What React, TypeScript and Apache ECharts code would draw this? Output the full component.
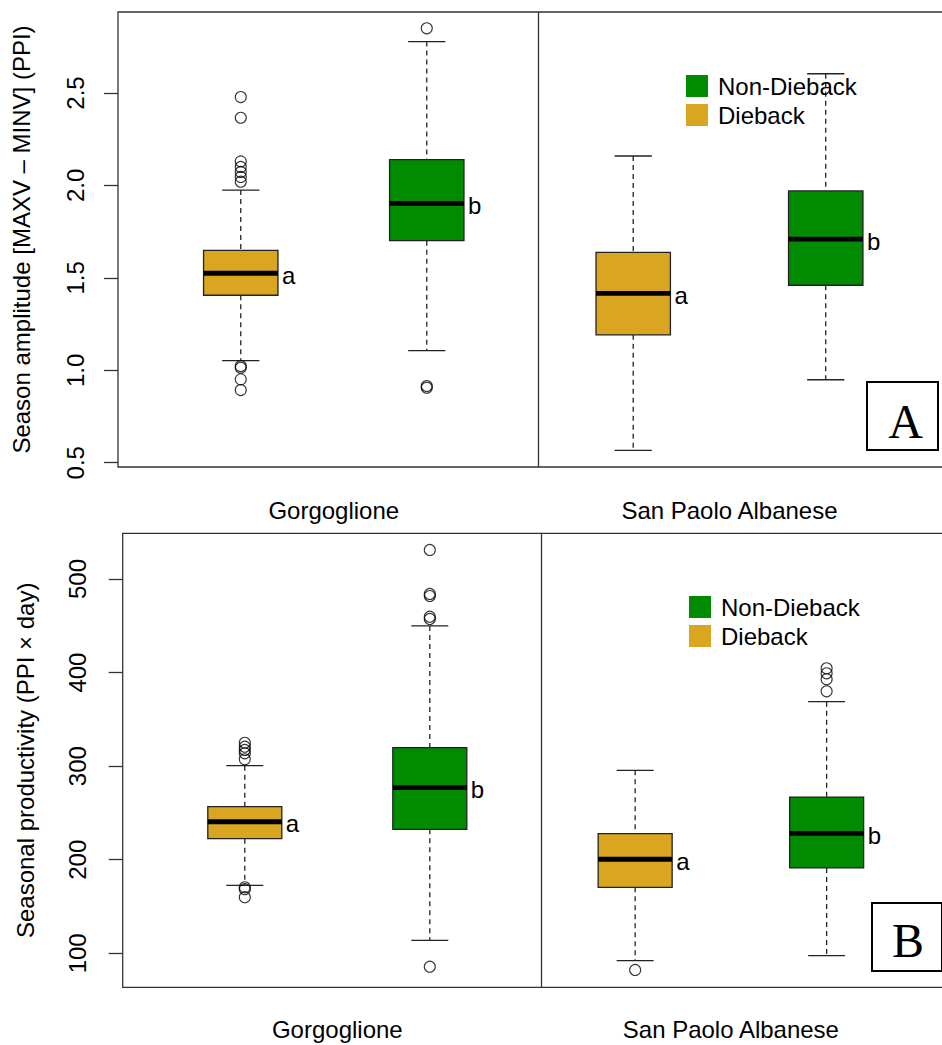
import React, { useEffect, useRef } from "react";
import * as echarts from "echarts";

// ---------- data ----------
const SITES = ["Gorgoglione", "San Paolo Albanese"];
const GROUPS = ["Non-Dieback", "Dieback"];
// box positions on the x value axis: [Gorgoglione, San Paolo Albanese]
const POS_DIEBACK = [1, 3.11];
const POS_NON = [2, 4.145];
const SITE_MID = [1.5, 3.6275];
const DIVIDER = 2.595;

// stats: [lower whisker, Q1, median, Q3, upper whisker]
const A_DIEBACK = [
  [1.052, 1.406, 1.525, 1.649, 1.975],
  [0.567, 1.192, 1.416, 1.638, 2.159],
];
const A_NON = [
  [1.106, 1.701, 1.903, 2.139, 2.778],
  [0.949, 1.46, 1.71, 1.97, 2.604],
];
const A_OUT_DIEBACK = [
  [2.478, 2.366, 2.13, 2.1, 2.073, 2.046, 2.02, 1.023, 1.014, 0.951, 0.893],
  [],
];
const A_OUT_NON = [[2.85, 0.915, 0.906], []];

const B_DIEBACK = [
  [172.7, 222.5, 240.6, 256.7, 300.5],
  [92.1, 170.5, 200.5, 227.8, 295.5],
];
const B_NON = [
  [113.9, 232.5, 277, 319.8, 449.8],
  [97.5, 191.2, 228.2, 267, 368.9],
];
const B_OUT_DIEBACK = [
  [325, 320.8, 317.3, 313.7, 307.3, 170.5, 168.5, 160],
  [82.2],
];
const B_OUT_NON = [
  [531, 484, 481.8, 459.7, 457.3, 85.7],
  [404.6, 399.2, 392.8, 380],
];

const LETTERS_DIEBACK = ["a", "a"];
const LETTERS_NON = ["b", "b"];

const A_TICKS = [0.5, 1.0, 1.5, 2.0, 2.5];
const B_TICKS = [100, 200, 300, 400, 500];

const A_TITLE = "Season amplitude [MAXV \u2013 MINV] (PPI)";
const B_TITLE = "Seasonal productivity (PPI \u00d7 day)";

// ---------- style ----------
const GOLD = "#DAA520";
const GREEN = "#008B00";
const FONT = "'Liberation Sans', Arial, sans-serif";
const SERIF = "'Liberation Serif', 'Times New Roman', serif";
const BOX_W = 0.4;

function makeRender(fill: string, letters: string[]) {
  return (params: any, api: any) => {
    const x = api.value(0);
    const lo = api.value(1);
    const q1 = api.value(2);
    const med = api.value(3);
    const q3 = api.value(4);
    const hi = api.value(5);
    const w = api.size([BOX_W, 0])[0];
    const cx = api.coord([x, lo])[0];
    const yLo = api.coord([x, lo])[1];
    const yQ1 = api.coord([x, q1])[1];
    const yMed = api.coord([x, med])[1];
    const yQ3 = api.coord([x, q3])[1];
    const yHi = api.coord([x, hi])[1];
    const half = w / 2;
    const cap = w / 4;
    const dash = { stroke: "#222", lineWidth: 1.3, lineDash: [5, 4] };
    const solid = { stroke: "#222", lineWidth: 1.3 };
    return {
      type: "group",
      children: [
        { type: "line", shape: { x1: cx, y1: yHi, x2: cx, y2: yQ3 }, style: dash },
        { type: "line", shape: { x1: cx, y1: yQ1, x2: cx, y2: yLo }, style: dash },
        { type: "line", shape: { x1: cx - cap, y1: yHi, x2: cx + cap, y2: yHi }, style: solid },
        { type: "line", shape: { x1: cx - cap, y1: yLo, x2: cx + cap, y2: yLo }, style: solid },
        {
          type: "rect",
          shape: { x: cx - half, y: yQ3, width: w, height: yQ1 - yQ3 },
          style: { fill, stroke: "#222", lineWidth: 1.3 },
        },
        {
          type: "line",
          shape: { x1: cx - half, y1: yMed, x2: cx + half, y2: yMed },
          style: { stroke: "#000", lineWidth: 4.8 },
        },
        {
          type: "text",
          x: cx + half + 4,
          y: yMed + 2,
          style: {
            text: letters[params.dataIndex],
            fontSize: 24,
            fontFamily: FONT,
            fill: "#000",
            align: "left",
            verticalAlign: "middle",
          },
        },
      ],
    };
  };
}

function boxData(pos: number[], stats: number[][]) {
  return stats.map((s, i) => [pos[i], ...s]);
}
function outData(pos: number[], outs: number[][]) {
  const res: number[][] = [];
  outs.forEach((arr, i) => arr.forEach((v) => res.push([pos[i], v])));
  return res;
}

function panelSeries(idx: number, dieback: number[][], non: number[][], outD: number[][], outN: number[][]) {
  return [
    {
      name: "Dieback",
      type: "custom",
      xAxisIndex: idx,
      yAxisIndex: idx,
      itemStyle: { color: GOLD },
      renderItem: makeRender(GOLD, LETTERS_DIEBACK),
      encode: { x: 0, y: [1, 2, 3, 4, 5] },
      data: boxData(POS_DIEBACK, dieback),
      markLine: {
        silent: true,
        symbol: "none",
        label: { show: false },
        lineStyle: { color: "#333", width: 1.3, type: "solid" },
        data: [{ xAxis: DIVIDER }],
      },
    },
    {
      name: "Non-Dieback",
      type: "custom",
      xAxisIndex: idx,
      yAxisIndex: idx,
      itemStyle: { color: GREEN },
      renderItem: makeRender(GREEN, LETTERS_NON),
      encode: { x: 0, y: [1, 2, 3, 4, 5] },
      data: boxData(POS_NON, non),
    },
    {
      name: "outliers",
      type: "scatter",
      xAxisIndex: idx,
      yAxisIndex: idx,
      symbol: "circle",
      symbolSize: 11,
      itemStyle: { color: "rgba(0,0,0,0)", borderColor: "#000", borderWidth: 1.1 },
      data: [...outData(POS_DIEBACK, outD), ...outData(POS_NON, outN)],
    },
  ];
}

function xAxis(idx: number) {
  return {
    type: "value",
    gridIndex: idx,
    min: 0.34,
    max: 5,
    axisLine: { show: false },
    axisTick: { show: false },
    splitLine: { show: false },
    axisLabel: {
      customValues: SITE_MID,
      formatter: (v: number) => {
        const i = SITE_MID.findIndex((m) => Math.abs(m - v) < 1e-6);
        return i >= 0 ? SITES[i] : "";
      },
      fontSize: 24,
      fontFamily: FONT,
      color: "#000",
      margin: idx === 0 ? 31 : 30,
    },
  };
}

function yAxis(idx: number, min: number, max: number, ticks: number[], title: string, fmt: (v: number) => string, labelMargin: number, nameGap: number) {
  return {
    type: "value",
    gridIndex: idx,
    min,
    max,
    name: title,
    nameLocation: "middle",
    nameRotate: 90,
    nameGap,
    nameTextStyle: { fontSize: 24, fontFamily: FONT, color: "#000" },
    axisLine: { show: false },
    splitLine: { show: false },
    axisTick: {
      show: true,
      customValues: ticks,
      length: 14,
      lineStyle: { color: "#333", width: 1.3 },
    },
    axisLabel: {
      customValues: ticks,
      formatter: fmt,
      rotate: 90,
      fontSize: 24,
      fontFamily: FONT,
      color: "#000",
      margin: labelMargin,
    },
  };
}

function legend(left: number, top: number) {
  return {
    orient: "vertical",
    left,
    top,
    padding: 0,
    icon: "rect",
    itemWidth: 22,
    itemHeight: 22,
    itemGap: 5,
    data: GROUPS,
    selectedMode: false,
    itemStyle: { borderWidth: 0 },
    textStyle: { fontSize: 24, fontFamily: FONT, color: "#000", lineHeight: 24, padding: [0, 0, 0, 5] },
  };
}

export default function App() {
  const ref = useRef<HTMLDivElement>(null);
  useEffect(() => {
    if (!ref.current) return;
    const chart = echarts.init(ref.current, undefined, { renderer: "svg" });
    chart.setOption({
      animation: false,
      backgroundColor: "#fff",
      grid: [
        { left: 118, top: 12, width: 4.66 * 186, height: 455, show: true, borderColor: "#333", borderWidth: 1.3, backgroundColor: "transparent" },
        { left: 122.7, top: 533.3, width: 4.66 * 185, height: 454, show: true, borderColor: "#333", borderWidth: 1.3, backgroundColor: "transparent" },
      ],
      xAxis: [xAxis(0), xAxis(1)],
      yAxis: [
        yAxis(0, 0.477, 2.938, A_TICKS, A_TITLE, (v: number) => v.toFixed(1), 31, 85),
        yAxis(1, 63.7, 548.8, B_TICKS, B_TITLE, (v: number) => String(Math.round(v)), 33, 85),
      ],
      legend: [legend(686, 74), legend(689, 595)],
      series: [
        ...panelSeries(0, A_DIEBACK, A_NON, A_OUT_DIEBACK, A_OUT_NON),
        ...panelSeries(1, B_DIEBACK, B_NON, B_OUT_DIEBACK, B_OUT_NON),
      ],
      graphic: [
        {
          type: "group",
          children: [
            { type: "rect", shape: { x: 867, y: 382, width: 71, height: 68 }, style: { fill: "#fff", stroke: "#000", lineWidth: 2 } },
            { type: "text", x: 905.5, y: 421, style: { text: "A", fontSize: 48, fontFamily: SERIF, fill: "#000", align: "center", verticalAlign: "middle" } },
            { type: "rect", shape: { x: 872, y: 903, width: 70, height: 68 }, style: { fill: "#fff", stroke: "#000", lineWidth: 2 } },
            { type: "text", x: 908, y: 940, style: { text: "B", fontSize: 48, fontFamily: SERIF, fill: "#000", align: "center", verticalAlign: "middle" } },
          ],
        },
      ],
    });
    return () => chart.dispose();
  }, []);
  return (
    <div
      ref={ref}
      style={{ position: "fixed", left: 0, top: 0, width: 1000, height: 1045, background: "#fff" }}
    />
  );
}
